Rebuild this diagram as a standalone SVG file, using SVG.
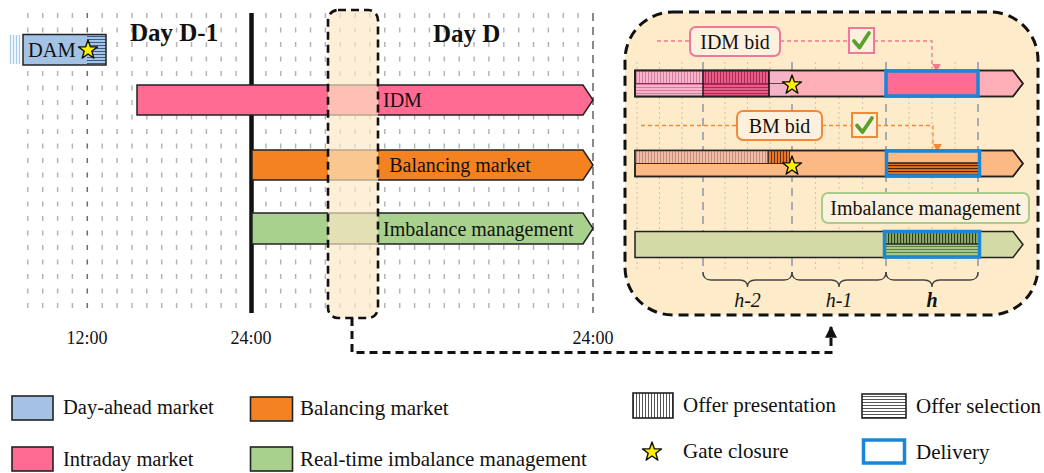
<svg xmlns="http://www.w3.org/2000/svg" width="1044" height="473" viewBox="0 0 1044 473">
  <style>
    text { font-family: "Liberation Serif", "Times New Roman", serif; fill: #111; }
    .grid { stroke: #b4b4b4; stroke-width: 1.5; stroke-dasharray: 5 9.5; }
    .gridDark { stroke: #6a6a6a; stroke-width: 1.5; stroke-dasharray: 5 9.5; }
    .gridEnd { stroke: #8a8a8a; stroke-width: 2; stroke-dasharray: 8 6; }
    .hour { stroke: #8e97ab; stroke-width: 1.5; stroke-dasharray: 8 6; }
    .quarter { stroke: #c9c2b8; stroke-width: 1; stroke-dasharray: 2 3; }
    .bar { stroke: #222; stroke-width: 1.5; }
    .deliv { fill: none; stroke: #1a86d8; stroke-width: 3.5; }
    .brace { fill: none; stroke: #444; stroke-width: 1.3; }
    .lbl { font-size: 20px; }
    .leg { font-size: 21px; }
    .legL { font-size: 20.5px; }
    .day { font-size: 25px; font-weight: bold; }
    .time { font-size: 18px; text-anchor: middle; }
    .check { fill: none; stroke: #5aa02c; stroke-width: 3.8; stroke-linecap: round; stroke-linejoin: round; }
  </style>
  <defs>
    <polygon id="star" points="0,-10 2.35,-3.24 9.51,-3.09 3.8,1.24 5.88,8.09 0,4 -5.88,8.09 -3.8,1.24 -9.51,-3.09 -2.35,-3.24" fill="#ffee00" stroke="#111" stroke-width="1.4" stroke-linejoin="round"/>
    <pattern id="vPinkL" width="3" height="10" patternUnits="userSpaceOnUse"><rect width="3" height="10" fill="#f4b6cb"/><line x1="0.5" y1="0" x2="0.5" y2="10" stroke="#d77a9e" stroke-width="1"/></pattern>
    <pattern id="hPinkL" width="10" height="3" patternUnits="userSpaceOnUse"><rect width="10" height="3" fill="#f4b6cb"/><line x1="0" y1="0.5" x2="10" y2="0.5" stroke="#d77a9e" stroke-width="1"/></pattern>
    <pattern id="vPinkD" width="3" height="10" patternUnits="userSpaceOnUse"><rect width="3" height="10" fill="#ea5d8a"/><line x1="0.5" y1="0" x2="0.5" y2="10" stroke="#a92a55" stroke-width="1"/></pattern>
    <pattern id="hPinkD" width="10" height="3" patternUnits="userSpaceOnUse"><rect width="10" height="3" fill="#ea5d8a"/><line x1="0" y1="0.5" x2="10" y2="0.5" stroke="#a92a55" stroke-width="1"/></pattern>
    <pattern id="vBmL" width="3" height="10" patternUnits="userSpaceOnUse"><rect width="3" height="10" fill="#f2bba7"/><line x1="0.5" y1="0" x2="0.5" y2="10" stroke="#c48e7f" stroke-width="1"/></pattern>
    <pattern id="vBmD" width="3" height="10" patternUnits="userSpaceOnUse"><rect width="3" height="10" fill="#e9772a"/><line x1="0.5" y1="0" x2="0.5" y2="10" stroke="#6a3010" stroke-width="1"/></pattern>
    <pattern id="hBmD" width="10" height="3" patternUnits="userSpaceOnUse"><rect width="10" height="3" fill="#e2731f"/><line x1="0" y1="0.5" x2="10" y2="0.5" stroke="#4d2408" stroke-width="1.2"/></pattern>
    <pattern id="vIm" width="3" height="10" patternUnits="userSpaceOnUse"><rect width="3" height="10" fill="#8daa67"/><line x1="0.5" y1="0" x2="0.5" y2="10" stroke="#2c3e18" stroke-width="1.2"/></pattern>
    <pattern id="hIm" width="10" height="3" patternUnits="userSpaceOnUse"><rect width="10" height="3" fill="#a8c88c"/><line x1="0" y1="0.5" x2="10" y2="0.5" stroke="#5c7e3e" stroke-width="1"/></pattern>
    <pattern id="hDam" width="10" height="3" patternUnits="userSpaceOnUse"><rect width="10" height="3" fill="#a6c4e6"/><line x1="0" y1="0.5" x2="10" y2="0.5" stroke="#3d5a80" stroke-width="1"/></pattern>
    <pattern id="vLeg" width="3" height="10" patternUnits="userSpaceOnUse"><rect width="3" height="10" fill="#ffffff"/><line x1="0.5" y1="0" x2="0.5" y2="10" stroke="#555" stroke-width="1"/></pattern>
    <pattern id="hLeg" width="10" height="3" patternUnits="userSpaceOnUse"><rect width="10" height="3" fill="#ffffff"/><line x1="0" y1="0.5" x2="10" y2="0.5" stroke="#555" stroke-width="1"/></pattern>
    <marker id="arrPink" viewBox="0 0 10 10" refX="5" refY="10" markerWidth="9" markerHeight="9" markerUnits="userSpaceOnUse" orient="auto-start-reverse"><path d="M0,0 L10,0 L5,10 Z" fill="#f07898" transform="rotate(-90 5 5)"/></marker>
    <marker id="arrOrange" viewBox="0 0 10 10" refX="5" refY="10" markerWidth="9" markerHeight="9" markerUnits="userSpaceOnUse" orient="auto-start-reverse"><path d="M0,0 L10,0 L5,10 Z" fill="#f08a3a" transform="rotate(-90 5 5)"/></marker>
    <marker id="arrBlack" viewBox="0 0 10 10" refX="9" refY="5" markerWidth="12" markerHeight="12" markerUnits="userSpaceOnUse" orient="auto"><path d="M0,0 L10,5 L0,10 Z" fill="#111"/></marker>
  </defs>

  <!-- hourly grid of the two-day timeline -->
  <g id="timeline-grid">
    <line class="grid" x1="27.8" y1="13" x2="27.8" y2="313"/>
    <line class="grid" x1="42.7" y1="13" x2="42.7" y2="313"/>
    <line class="grid" x1="57.6" y1="13" x2="57.6" y2="313"/>
    <line class="grid" x1="72.4" y1="13" x2="72.4" y2="313"/>
    <line class="gridDark" x1="87.3" y1="13" x2="87.3" y2="313"/>
    <line class="grid" x1="102.2" y1="13" x2="102.2" y2="313"/>
    <line class="grid" x1="117.1" y1="13" x2="117.1" y2="313"/>
    <line class="grid" x1="132" y1="13" x2="132" y2="313"/>
    <line class="grid" x1="146.8" y1="13" x2="146.8" y2="313"/>
    <line class="grid" x1="161.7" y1="13" x2="161.7" y2="313"/>
    <line class="grid" x1="176.6" y1="13" x2="176.6" y2="313"/>
    <line class="grid" x1="191.5" y1="13" x2="191.5" y2="313"/>
    <line class="grid" x1="206.4" y1="13" x2="206.4" y2="313"/>
    <line class="grid" x1="221.2" y1="13" x2="221.2" y2="313"/>
    <line class="grid" x1="236.1" y1="13" x2="236.1" y2="313"/>
    <line class="grid" x1="265.9" y1="13" x2="265.9" y2="313"/>
    <line class="grid" x1="280.7" y1="13" x2="280.7" y2="313"/>
    <line class="grid" x1="295.6" y1="13" x2="295.6" y2="313"/>
    <line class="grid" x1="310.5" y1="13" x2="310.5" y2="313"/>
    <line class="grid" x1="325.4" y1="13" x2="325.4" y2="313"/>
    <line class="grid" x1="340.2" y1="13" x2="340.2" y2="313"/>
    <line class="grid" x1="355.1" y1="13" x2="355.1" y2="313"/>
    <line class="grid" x1="370" y1="13" x2="370" y2="313"/>
    <line class="grid" x1="384.8" y1="13" x2="384.8" y2="313"/>
    <line class="grid" x1="399.7" y1="13" x2="399.7" y2="313"/>
    <line class="grid" x1="414.6" y1="13" x2="414.6" y2="313"/>
    <line class="grid" x1="429.4" y1="13" x2="429.4" y2="313"/>
    <line class="grid" x1="444.3" y1="13" x2="444.3" y2="313"/>
    <line class="grid" x1="459.2" y1="13" x2="459.2" y2="313"/>
    <line class="grid" x1="474.1" y1="13" x2="474.1" y2="313"/>
    <line class="grid" x1="488.9" y1="13" x2="488.9" y2="313"/>
    <line class="grid" x1="503.8" y1="13" x2="503.8" y2="313"/>
    <line class="grid" x1="518.7" y1="13" x2="518.7" y2="313"/>
    <line class="grid" x1="533.5" y1="13" x2="533.5" y2="313"/>
    <line class="grid" x1="548.4" y1="13" x2="548.4" y2="313"/>
    <line class="grid" x1="563.3" y1="13" x2="563.3" y2="313"/>
    <line class="grid" x1="578.1" y1="13" x2="578.1" y2="313"/>
    <line class="gridEnd" x1="593" y1="13" x2="593" y2="313"/>
    <line x1="251.5" y1="13" x2="251.5" y2="313" stroke="#111" stroke-width="4.5"/>
  </g>

  <text class="day" x="130" y="41">Day D-1</text>
  <text class="day" x="433" y="42">Day D</text>

  <g id="dam">
    <g stroke="#a9c9ed" stroke-width="1.4">
      <line x1="10.5" y1="35" x2="10.5" y2="64"/>
      <line x1="13.5" y1="35" x2="13.5" y2="64"/>
      <line x1="16.5" y1="35" x2="16.5" y2="64"/>
      <line x1="19.5" y1="35" x2="19.5" y2="64"/>
    </g>
    <rect x="23" y="34.5" width="83" height="30.5" fill="#a4c2e4"/>
    <rect x="87" y="34.5" width="19" height="30.5" fill="url(#hDam)"/>
    <rect x="23" y="34.5" width="83" height="30.5" fill="none" class="bar"/>
    <text x="28" y="57" font-size="20.5">DAM</text>
    <use href="#star" x="88" y="50"/>
  </g>

  <g id="idm">
    <path class="bar" d="M137 85 H583 L593 100 L583 115 H137 Z" fill="#ff6b93"/>
    <text class="lbl" x="383" y="107">IDM</text>
  </g>

  <g id="balancing">
    <path class="bar" d="M252 150 H583 L593 165 L583 180 H252 Z" fill="#f58220"/>
    <text class="lbl" x="460" y="172" text-anchor="middle">Balancing market</text>
  </g>

  <g id="imbalance">
    <path class="bar" d="M252 213 H583 L593 228.5 L583 244 H252 Z" fill="#a9d18e"/>
    <text class="lbl" x="383" y="235.5">Imbalance management</text>
  </g>

  <!-- highlighted hour of Day D -->
  <g id="focus-hour">
    <rect x="328" y="10" width="50" height="308" rx="10" fill="#fde8c6" opacity="0.68"/>
    <rect x="328" y="10" width="50" height="308" rx="10" fill="none" stroke="#111" stroke-width="2.6" stroke-dasharray="8 5"/>
  </g>

  <g id="time-axis">
    <text class="time" x="87" y="344">12:00</text>
    <text class="time" x="251" y="344">24:00</text>
    <text class="time" x="593" y="344">24:00</text>
  </g>

  <!-- detail view of the highlighted hour -->
  <g id="detail">
    <rect x="625" y="12" width="413" height="303" rx="48" fill="#fdebc9"/>

    <g id="detail-grid">
      <line class="quarter" x1="637" y1="62" x2="637" y2="270"/>
      <line class="quarter" x1="659.5" y1="62" x2="659.5" y2="270"/>
      <line class="quarter" x1="682" y1="62" x2="682" y2="270"/>
      <line class="quarter" x1="725" y1="62" x2="725" y2="270"/>
      <line class="quarter" x1="747.5" y1="62" x2="747.5" y2="270"/>
      <line class="quarter" x1="770" y1="62" x2="770" y2="270"/>
      <line class="quarter" x1="815.5" y1="62" x2="815.5" y2="270"/>
      <line class="quarter" x1="839" y1="62" x2="839" y2="270"/>
      <line class="quarter" x1="862.5" y1="62" x2="862.5" y2="270"/>
      <line class="quarter" x1="909" y1="62" x2="909" y2="270"/>
      <line class="quarter" x1="932" y1="62" x2="932" y2="270"/>
      <line class="quarter" x1="955" y1="62" x2="955" y2="270"/>
      <line class="hour" x1="703" y1="62" x2="703" y2="276"/>
      <line class="hour" x1="792" y1="62" x2="792" y2="276"/>
      <line class="hour" x1="886" y1="62" x2="886" y2="276"/>
      <line class="hour" x1="978" y1="62" x2="978" y2="276"/>
    </g>

    <g id="idm-bid">
      <g fill="none" stroke="#f07898" stroke-width="1.3" stroke-dasharray="4 3">
        <path d="M657 41 H690"/>
        <path d="M780 41 H849"/>
        <path d="M874 41 H932 V68" marker-end="url(#arrPink)"/>
      </g>
      <rect x="690" y="27" width="90" height="29" rx="6" fill="#fdf1de" stroke="#f07898" stroke-width="2"/>
      <text class="lbl" x="735" y="48.5" text-anchor="middle">IDM bid</text>
      <rect x="849" y="28" width="25" height="25" fill="#fdf1de" stroke="#f07898" stroke-width="2"/>
      <path class="check" d="M854 41 L859.5 47.5 L869 33"/>
    </g>

    <g id="idm-row">
      <path class="bar" d="M635 70.5 H1013 L1023 83.5 L1013 96.5 H635 Z" fill="#ffafb7"/>
      <rect x="635" y="70.5" width="68" height="13" fill="url(#vPinkL)"/>
      <rect x="635" y="83.5" width="68" height="13" fill="url(#hPinkL)"/>
      <rect x="703" y="70.5" width="66" height="13" fill="url(#vPinkD)"/>
      <rect x="703" y="83.5" width="66" height="13" fill="url(#hPinkD)"/>
      <rect x="769" y="70.5" width="21" height="26" fill="#f4b3c6"/>
      <line x1="635" y1="83.5" x2="790" y2="83.5" stroke="#6a4050" stroke-width="1"/>
      <rect x="635" y="70.5" width="134" height="26" fill="none" stroke="#111" stroke-width="1.6"/>
      <line x1="703" y1="70.5" x2="703" y2="96.5" stroke="#111" stroke-width="1.4"/>
      <path class="bar" d="M635 70.5 H1013 L1023 83.5 L1013 96.5 H635 Z" fill="none"/>
      <rect class="deliv" x="886" y="71" width="92" height="25" style="fill:#ff6b93"/>
      <use href="#star" x="792" y="85"/>
    </g>

    <g id="bm-bid">
      <g fill="none" stroke="#f08a3a" stroke-width="1.3" stroke-dasharray="4 3">
        <path d="M641 125.5 H737"/>
        <path d="M822 125.5 H852"/>
        <path d="M877 125.5 H933 V148" marker-end="url(#arrOrange)"/>
      </g>
      <rect x="737" y="111" width="85" height="29" rx="6" fill="#fdf1de" stroke="#f08a3a" stroke-width="2"/>
      <text class="lbl" x="779.5" y="132.5" text-anchor="middle">BM bid</text>
      <rect x="852" y="113" width="25" height="24" fill="#fdf1de" stroke="#f08a3a" stroke-width="2"/>
      <path class="check" d="M857 125.5 L862.5 132 L872 118"/>
    </g>

    <g id="bm-row">
      <path class="bar" d="M635 150.5 H1013 L1023 163.5 L1013 176.5 H635 Z" fill="#fdb984"/>
      <rect x="635" y="150.5" width="133" height="13" fill="url(#vBmL)"/>
      <rect x="768" y="150.5" width="22" height="13" fill="url(#vBmD)"/>
      <line x1="635" y1="163.5" x2="790" y2="163.5" stroke="#333" stroke-width="1.2"/>
      <line x1="768" y1="150.5" x2="768" y2="163.5" stroke="#333" stroke-width="1.2"/>
      <path class="bar" d="M635 150.5 H1013 L1023 163.5 L1013 176.5 H635 Z" fill="none"/>
      <rect x="888" y="163" width="90" height="12" fill="url(#hBmD)"/>
      <line x1="888" y1="163" x2="978" y2="163" stroke="#222" stroke-width="1.4"/>
      <rect class="deliv" x="886.5" y="151" width="93" height="25"/>
      <use href="#star" x="792" y="166"/>
    </g>

    <g id="imbalance-label">
      <rect x="822" y="193" width="207" height="30" rx="6" fill="#fdf1de" stroke="#a8cc8c" stroke-width="2"/>
      <text class="lbl" x="925.5" y="214.5" text-anchor="middle">Imbalance management</text>
    </g>

    <g id="imbalance-row">
      <path class="bar" d="M635 231.5 H1013 L1023 244.5 L1013 257.5 H635 Z" fill="#d4daa6"/>
      <rect x="886" y="233" width="92" height="11" fill="url(#vIm)"/>
      <rect x="886" y="244.5" width="92" height="11" fill="url(#hIm)"/>
      <line x1="886" y1="244" x2="978" y2="244" stroke="#222" stroke-width="1.6"/>
      <rect class="deliv" x="884.5" y="231.5" width="95" height="25.5"/>
    </g>

    <g id="hour-braces">
      <path class="brace" d="M703 272 Q703 280 711 280 H739.5 Q747.5 280 747.5 287 Q747.5 280 755.5 280 H784 Q792 280 792 272"/>
      <path class="brace" d="M792 272 Q792 280 800 280 H831 Q839 280 839 287 Q839 280 847 280 H878 Q886 280 886 272"/>
      <path class="brace" d="M886 272 Q886 280 894 280 H924 Q932 280 932 287 Q932 280 940 280 H970 Q978 280 978 272"/>
      <text class="lbl" x="747.5" y="307" text-anchor="middle" font-style="italic">h-2</text>
      <text class="lbl" x="839" y="307" text-anchor="middle" font-style="italic">h-1</text>
      <text class="lbl" x="932" y="307" text-anchor="middle" font-style="italic" font-weight="bold">h</text>
    </g>

    <rect x="625" y="12" width="413" height="303" rx="48" fill="none" stroke="#111" stroke-width="3" stroke-dasharray="10 6"/>
  </g>

  <g id="connectors">
    <path d="M352 318 V352.5 H831 V327" fill="none" stroke="#111" stroke-width="3" stroke-dasharray="8 5" marker-end="url(#arrBlack)"/>
  </g>

  <g id="legend">
    <rect x="12" y="396" width="41" height="24" fill="#a4c2e4" stroke="#222" stroke-width="1.6"/>
    <text class="legL" x="63" y="414">Day-ahead market</text>
    <rect x="12" y="447" width="41" height="24" fill="#ff6b93" stroke="#222" stroke-width="1.6"/>
    <text class="legL" x="63" y="466">Intraday market</text>
    <rect x="250.5" y="397" width="42" height="24" fill="#f58220" stroke="#222" stroke-width="1.6"/>
    <text class="leg" x="300" y="415">Balancing market</text>
    <rect x="250.5" y="447" width="42" height="24" fill="#a9d18e" stroke="#222" stroke-width="1.6"/>
    <text class="leg" x="300" y="466">Real-time imbalance management</text>

    <rect x="633" y="393" width="40" height="25" fill="url(#vLeg)" stroke="#222" stroke-width="1.6"/>
    <text class="leg" x="683" y="412">Offer presentation</text>
    <rect x="862" y="394" width="44" height="24" fill="url(#hLeg)" stroke="#222" stroke-width="1.6"/>
    <text class="leg" x="916" y="413">Offer selection</text>
    <use href="#star" x="652" y="452"/>
    <text class="leg" x="683" y="458">Gate closure</text>
    <rect x="863.5" y="440" width="41" height="23" fill="#fff" stroke="#1a86d8" stroke-width="3.5"/>
    <text class="leg" x="916" y="459">Delivery</text>
  </g>
</svg>
